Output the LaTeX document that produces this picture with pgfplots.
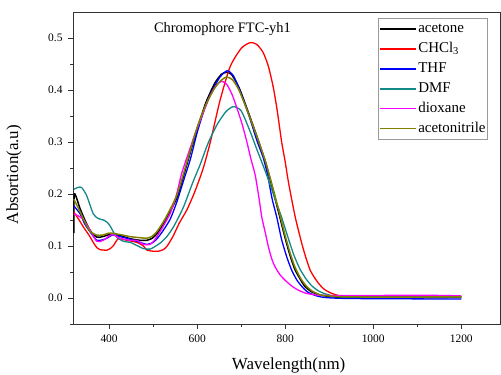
\documentclass[border=0pt]{standalone}
\usepackage{pgfplots}
\pgfplotsset{compat=1.18}
\usepackage{fontspec}
\setmainfont{Liberation Serif}
\definecolor{dmf}{RGB}{20,135,135}
\definecolor{oliv}{RGB}{128,128,0}
\definecolor{magen}{RGB}{255,0,255}
\begin{document}
\begin{tikzpicture}
\begin{axis}[
  scale only axis, width=427bp, height=312bp,
  xmin=318, xmax=1288, ymin=-0.05, ymax=0.55,
  xtick={400,600,800,1000,1200}, minor xtick={500,700,900,1100},
  ytick={0,0.1,0.2,0.3,0.4,0.5}, minor ytick={-0.05,0.05,0.15,0.25,0.35,0.45},
  xtick pos=left, ytick pos=left,
  tick align=outside, major tick length=5bp, minor tick length=3bp,
  axis line style={draw=black!80, line width=0.8bp},
  every tick/.style={black!80, line width=0.8bp},
  /pgf/number format/assume math mode=true,
  /pgf/number format/set thousands separator={},
  tick label style={font=\fontsize{11.5}{13}\selectfont},
  yticklabel style={/pgf/number format/fixed, /pgf/number format/fixed zerofill, /pgf/number format/precision=1, xshift=-2bp},
  xticklabel style={yshift=-2bp},
  xlabel={Wavelength(nm)}, ylabel={Absortion(a.u)},
  label style={font=\fontsize{17}{19}\selectfont},
  xlabel style={at={(axis description cs:0.505,-0.133)}, anchor=center},
  ylabel style={at={(axis description cs:-0.138,0.479)}, anchor=center},
  legend cell align=left,
  legend image code/.code={\draw[#1] (0bp,0bp) -- (36bp,0bp);},
  legend style={at={(axis description cs:0.972,0.981)}, anchor=north east,
    draw=black!40, line width=0.6bp, inner sep=1bp,
    font=\fontsize{15}{17}\selectfont,
    nodes={inner sep=1.2bp, text height=12.5bp, text depth=5bp}},
  every axis plot/.append style={smooth, tension=0.4, line join=round},
]
\addplot[black, line width=1.5bp] coordinates {
(320,0.125)(321,0.200)(334,0.172)(345,0.150)(357,0.130)(372,0.117)(385,0.118)(402,0.122)(425,0.120)(448,0.114)(470,0.111)(486,0.111)(498,0.115)(508,0.123)(520,0.138)(531,0.155)(554,0.193)(577,0.258)(600,0.325)(620,0.376)(640,0.413)(655,0.430)(666,0.434)(678,0.430)(695,0.405)(715,0.360)(736,0.310)(755,0.262)(770,0.215)(785,0.165)(800,0.115)(811,0.082)(822,0.055)(835,0.035)(845,0.022)(860,0.012)(878,0.006)(900,0.003)(950,0.001)(1200,0.001)};
\addlegendentry{acetone}
\addplot[red, line width=1.3bp] coordinates {
(320,0.165)(332,0.150)(342,0.136)(355,0.120)(364,0.107)(372,0.097)(380,0.093)(395,0.092)(404,0.096)(410,0.101)(421,0.114)(440,0.111)(463,0.107)(478,0.100)(486,0.092)(500,0.090)(512,0.090)(523,0.093)(532,0.100)(546,0.120)(560,0.145)(577,0.170)(595,0.205)(614,0.250)(630,0.300)(652,0.380)(675,0.445)(700,0.480)(720,0.491)(735,0.488)(750,0.472)(762,0.445)(773,0.405)(782,0.360)(792,0.300)(800,0.262)(808,0.220)(823,0.155)(838,0.104)(848,0.075)(857,0.053)(866,0.040)(876,0.028)(887,0.018)(898,0.012)(916,0.006)(950,0.003)(1200,0.002)};
\addlegendentry{CHCl\textsubscript{3}}
\addplot[blue, line width=1.3bp] coordinates {
(320,0.177)(334,0.162)(345,0.142)(357,0.127)(372,0.111)(385,0.112)(395,0.115)(410,0.122)(425,0.118)(440,0.115)(463,0.109)(486,0.103)(500,0.107)(510,0.115)(523,0.130)(539,0.152)(554,0.185)(570,0.228)(585,0.268)(600,0.318)(620,0.372)(637,0.403)(652,0.425)(668,0.437)(682,0.428)(698,0.397)(718,0.350)(736,0.302)(750,0.270)(760,0.237)(770,0.192)(781,0.155)(792,0.112)(804,0.078)(815,0.053)(827,0.034)(838,0.022)(850,0.012)(868,0.005)(890,0.001)(950,-0.001)(1200,-0.002)};
\addlegendentry{THF}
\addplot[dmf, line width=1.3bp] coordinates {
(320,0.209)(330,0.213)(338,0.212)(349,0.197)(364,0.162)(375,0.153)(387,0.150)(395,0.146)(402,0.139)(417,0.117)(433,0.109)(448,0.107)(463,0.101)(478,0.095)(493,0.094)(508,0.101)(518,0.107)(531,0.118)(545,0.135)(557,0.154)(570,0.177)(590,0.222)(607,0.257)(625,0.298)(645,0.333)(665,0.358)(682,0.368)(700,0.360)(720,0.321)(736,0.285)(752,0.250)(765,0.220)(777,0.190)(790,0.160)(807,0.115)(820,0.082)(834,0.055)(848,0.036)(861,0.023)(875,0.014)(891,0.008)(910,0.004)(950,0.002)(1200,0.002)};
\addlegendentry{DMF}
\addplot[magen, line width=1.3bp] coordinates {
(320,0.162)(341,0.152)(357,0.130)(372,0.109)(387,0.111)(406,0.122)(425,0.115)(448,0.111)(463,0.111)(478,0.103)(493,0.103)(502,0.110)(510,0.120)(523,0.138)(539,0.163)(552,0.195)(565,0.240)(580,0.278)(595,0.315)(612,0.352)(630,0.390)(645,0.410)(656,0.417)(668,0.410)(680,0.390)(690,0.366)(702,0.335)(713,0.300)(722,0.268)(732,0.236)(740,0.195)(747,0.155)(755,0.125)(762,0.098)(770,0.074)(777,0.060)(788,0.045)(800,0.034)(815,0.023)(830,0.015)(848,0.009)(870,0.006)(900,0.005)(1000,0.005)(1150,0.005)(1200,0.004)};
\addlegendentry{dioxane}
\addplot[oliv, line width=1.5bp] coordinates {
(320,0.190)(334,0.166)(345,0.146)(357,0.128)(372,0.121)(385,0.121)(402,0.125)(425,0.122)(448,0.118)(470,0.116)(486,0.115)(498,0.119)(508,0.127)(520,0.142)(531,0.158)(554,0.198)(577,0.262)(600,0.328)(620,0.372)(640,0.404)(655,0.419)(667,0.425)(680,0.420)(695,0.400)(715,0.358)(736,0.310)(755,0.263)(770,0.218)(785,0.170)(800,0.120)(811,0.087)(822,0.060)(835,0.038)(848,0.023)(862,0.013)(880,0.006)(900,0.004)(950,0.002)(1200,0.002)};
\addlegendentry{acetonitrile}
\node[font=\fontsize{14.5}{16}\selectfont, anchor=base, text height=, text depth=] at (axis description cs:0.350,0.933) {Chromophore FTC-yh1};
\end{axis}
\pgfresetboundingbox
\path[use as bounding box] ([shift={(-73bp,-50bp)}]current axis.south west) rectangle ([shift={(1bp,12bp)}]current axis.north east);
\end{tikzpicture}
\end{document}
